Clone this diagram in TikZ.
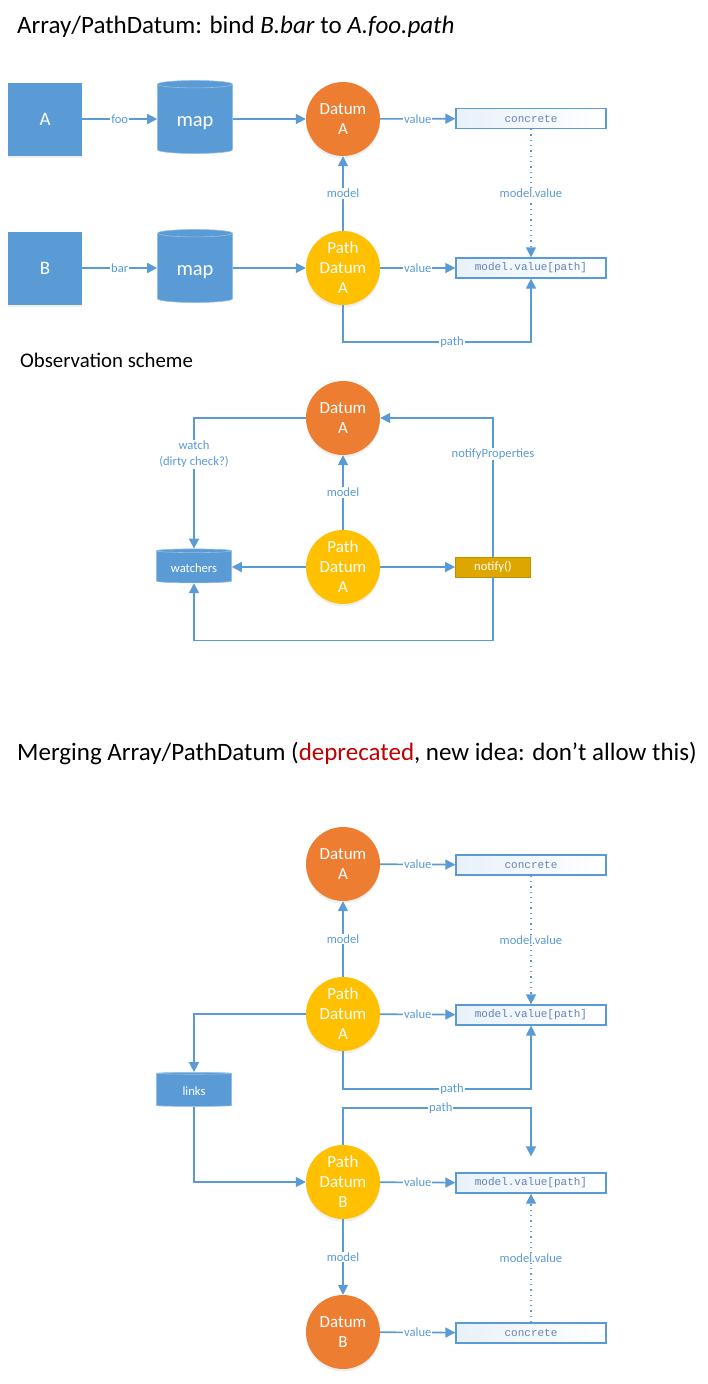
\documentclass[tikz,border=0pt]{standalone}
\usepackage{fontspec}
\setmainfont{Carlito}
\newfontfamily\boxmono{Liberation Mono}
\usetikzlibrary{arrows.meta,shapes.geometric,shadows,calc}
\definecolor{bl}{HTML}{5B9BD5}
\definecolor{orng}{HTML}{ED7D31}
\definecolor{yel}{HTML}{FFC000}
\definecolor{gold}{HTML}{DDA700}
\definecolor{goldb}{HTML}{BF9000}
\definecolor{lblc}{HTML}{5B9BD5}
\definecolor{monoc}{HTML}{6483B8}
\definecolor{dred}{HTML}{C00000}
\newcommand{\lowertext}[2]{\raisebox{#1}[\height][\depth]{#2}}
\begin{document}
\begin{tikzpicture}[x=1pt,y=-1pt,
  shd/.style={drop shadow={opacity=0.12,shadow xshift=0pt,shadow yshift=-2.5pt}},
  sq/.style={rectangle, fill=bl, minimum width=74pt, minimum height=73pt, inner sep=0pt,
    text=white, font=\fontsize{19}{22}\selectfont, shd},
  cylbig/.style={cylinder, shape border rotate=90, aspect=0.2, fill=bl, draw=bl!65!white,
    line width=0.6pt, minimum width=75pt, minimum height=73pt, inner sep=0pt,
    text=white, font=\fontsize{20.5}{22}\selectfont},
  cylsmall/.style={cylinder, shape border rotate=90, aspect=0.08, fill=bl, draw=bl!65!white,
    line width=0.6pt, minimum width=75pt, minimum height=34pt, inner sep=0pt,
    text=white, font=\fontsize{12.6}{14}\selectfont},
  dat/.style={circle, fill=orng, minimum size=74pt, inner sep=0pt, text=white, align=center,
    font=\fontsize{17}{20}\selectfont, shd},
  pdat/.style={dat, fill=yel},
  vbox/.style={rectangle, draw=bl, line width=1.3pt, left color=bl!14, right color=white,
    minimum width=150pt, minimum height=20pt, inner sep=0pt, text=monoc,
    font=\boxmono\fontsize{11}{12}\selectfont},
  nbox/.style={rectangle, draw=goldb, fill=gold, line width=0.8pt, minimum width=75pt,
    minimum height=20pt, inner sep=0pt, text=white, font=\fontsize{12.6}{14}\selectfont},
  arr/.style={draw=bl, line width=1.6pt, -{Triangle[length=10pt,width=10pt]}},
  dots/.style={line width=1.3pt, dash pattern=on 1.3pt off 4pt},
  lab/.style={fill=white, inner sep=1pt, text=lblc, font=\fontsize{12.6}{14}\selectfont},
  ttl/.style={anchor=base west, inner sep=0pt, text=black}
]
\fill[white] (0,0) rectangle (708,1384);
\useasboundingbox (0,0) rectangle (708,1384);

% ---------- Section 1 ----------
\node[ttl, font=\fontsize{25}{28}\selectfont] (t1) at (17,33)
  {Array/PathDatum: bind \textit{B.bar} to \textit{A.foo.path}};

\node[sq] (A1) at (45,119) {A};
\node[cylbig] (m1) at (195,119) {\lowertext{-4.5pt}{map}};
\node[dat] (da1) at (343,119) {Datum\\A};
\node[vbox] (c1) at (531,118.5) {concrete};
\node[sq] (B1) at (45,268) {B};
\node[cylbig] (m2) at (195,268) {\lowertext{-4.5pt}{map}};
\node[pdat] (pa1) at (343,268) {Path\\Datum\\A};
\node[vbox] (v1) at (531,268) {model.value[path]};

\draw[arr] (A1) -- node[lab]{foo} (m1);
\draw[arr] (m1) -- (da1);
\draw[arr] (da1) -- node[lab]{value} (c1);
\draw[arr] (B1) -- node[lab]{bar} (m2);
\draw[arr] (m2) -- (pa1);
\draw[arr] (pa1) -- node[lab]{value} (v1);
\draw[arr] (pa1) -- node[lab]{model} (da1);
\draw[arr,dots] (c1) -- node[lab]{model.value} (v1);
\draw[arr] (pa1.south) -- ++(0,37) -| node[lab,pos=0.29]{path} (v1.south);

% ---------- Section 2 ----------
\node[ttl, font=\fontsize{20.8}{24}\selectfont] (t2) at (20,367) {Observation scheme};

\node[dat] (da2) at (343,418) {Datum\\A};
\node[pdat] (pa2) at (343,567) {Path\\Datum\\A};
\node[cylsmall] (w) at (194,567) {\lowertext{-1.5pt}{watchers}};
\node[nbox] (n) at (493,567) {notify()};

\draw[arr] (da2.west) -| node[lab, pos=0.64, align=center, font=\fontsize{12.6}{16}\selectfont]{watch\\(dirty check?)} (w.north);
\draw[arr] (pa2) -- node[lab]{model} (da2);
\draw[arr] (pa2) -- (w);
\draw[arr] (pa2) -- (n);
\draw[arr] (n.north) |- node[lab,pos=0.37]{notifyProperties} (da2.east);
\draw[arr] (n.south) -- ++(0,63) -| (w.south);

% ---------- Section 3 ----------
\node[ttl, font=\fontsize{25}{28}\selectfont] (t3) at (17,760)
  {Merging Array/PathDatum (\textcolor{dred}{deprecated}, new idea: don’t allow this)};

\node[dat] (da3) at (343,864) {Datum\\A};
\node[vbox] (c3) at (531,865) {concrete};
\node[pdat] (pa3) at (343,1014) {Path\\Datum\\A};
\node[vbox] (v3) at (531,1015) {model.value[path]};
\node[cylsmall] (lk) at (194,1090) {\lowertext{-1.5pt}{links}};
\node[pdat] (pb3) at (343,1182) {Path\\Datum\\B};
\node[vbox] (v4) at (531,1183) {model.value[path]};
\node[dat] (db3) at (343,1332) {Datum\\B};
\node[vbox] (c4) at (531,1333) {concrete};
\coordinate (pe) at ($(v4.north)+(0,-16)$);

\draw[arr] (da3) -- node[lab]{value} (c3);
\draw[arr] (pa3) -- node[lab]{model} (da3);
\draw[arr,dots] (c3) -- node[lab]{model.value} (v3);
\draw[arr] (pa3) -- node[lab]{value} (v3);
\draw[arr] (pa3.south) -- ++(0,38) -| node[lab,pos=0.29]{path} (v3.south);
\draw[arr] (pa3.west) -| (lk.north);
\draw[arr] (lk.south) |- (pb3.west);
\draw[arr] (pb3.north) -- ++(0,-37) -| node[lab,pos=0.26]{path} (pe);
\draw[arr] (pb3) -- node[lab]{value} (v4);
\draw[arr] (pb3) -- node[lab]{model} (db3);
\draw[arr] (db3) -- node[lab]{value} (c4);
\draw[arr,dots] (c4) -- node[lab]{model.value} (v4);
\end{tikzpicture}
\end{document}
